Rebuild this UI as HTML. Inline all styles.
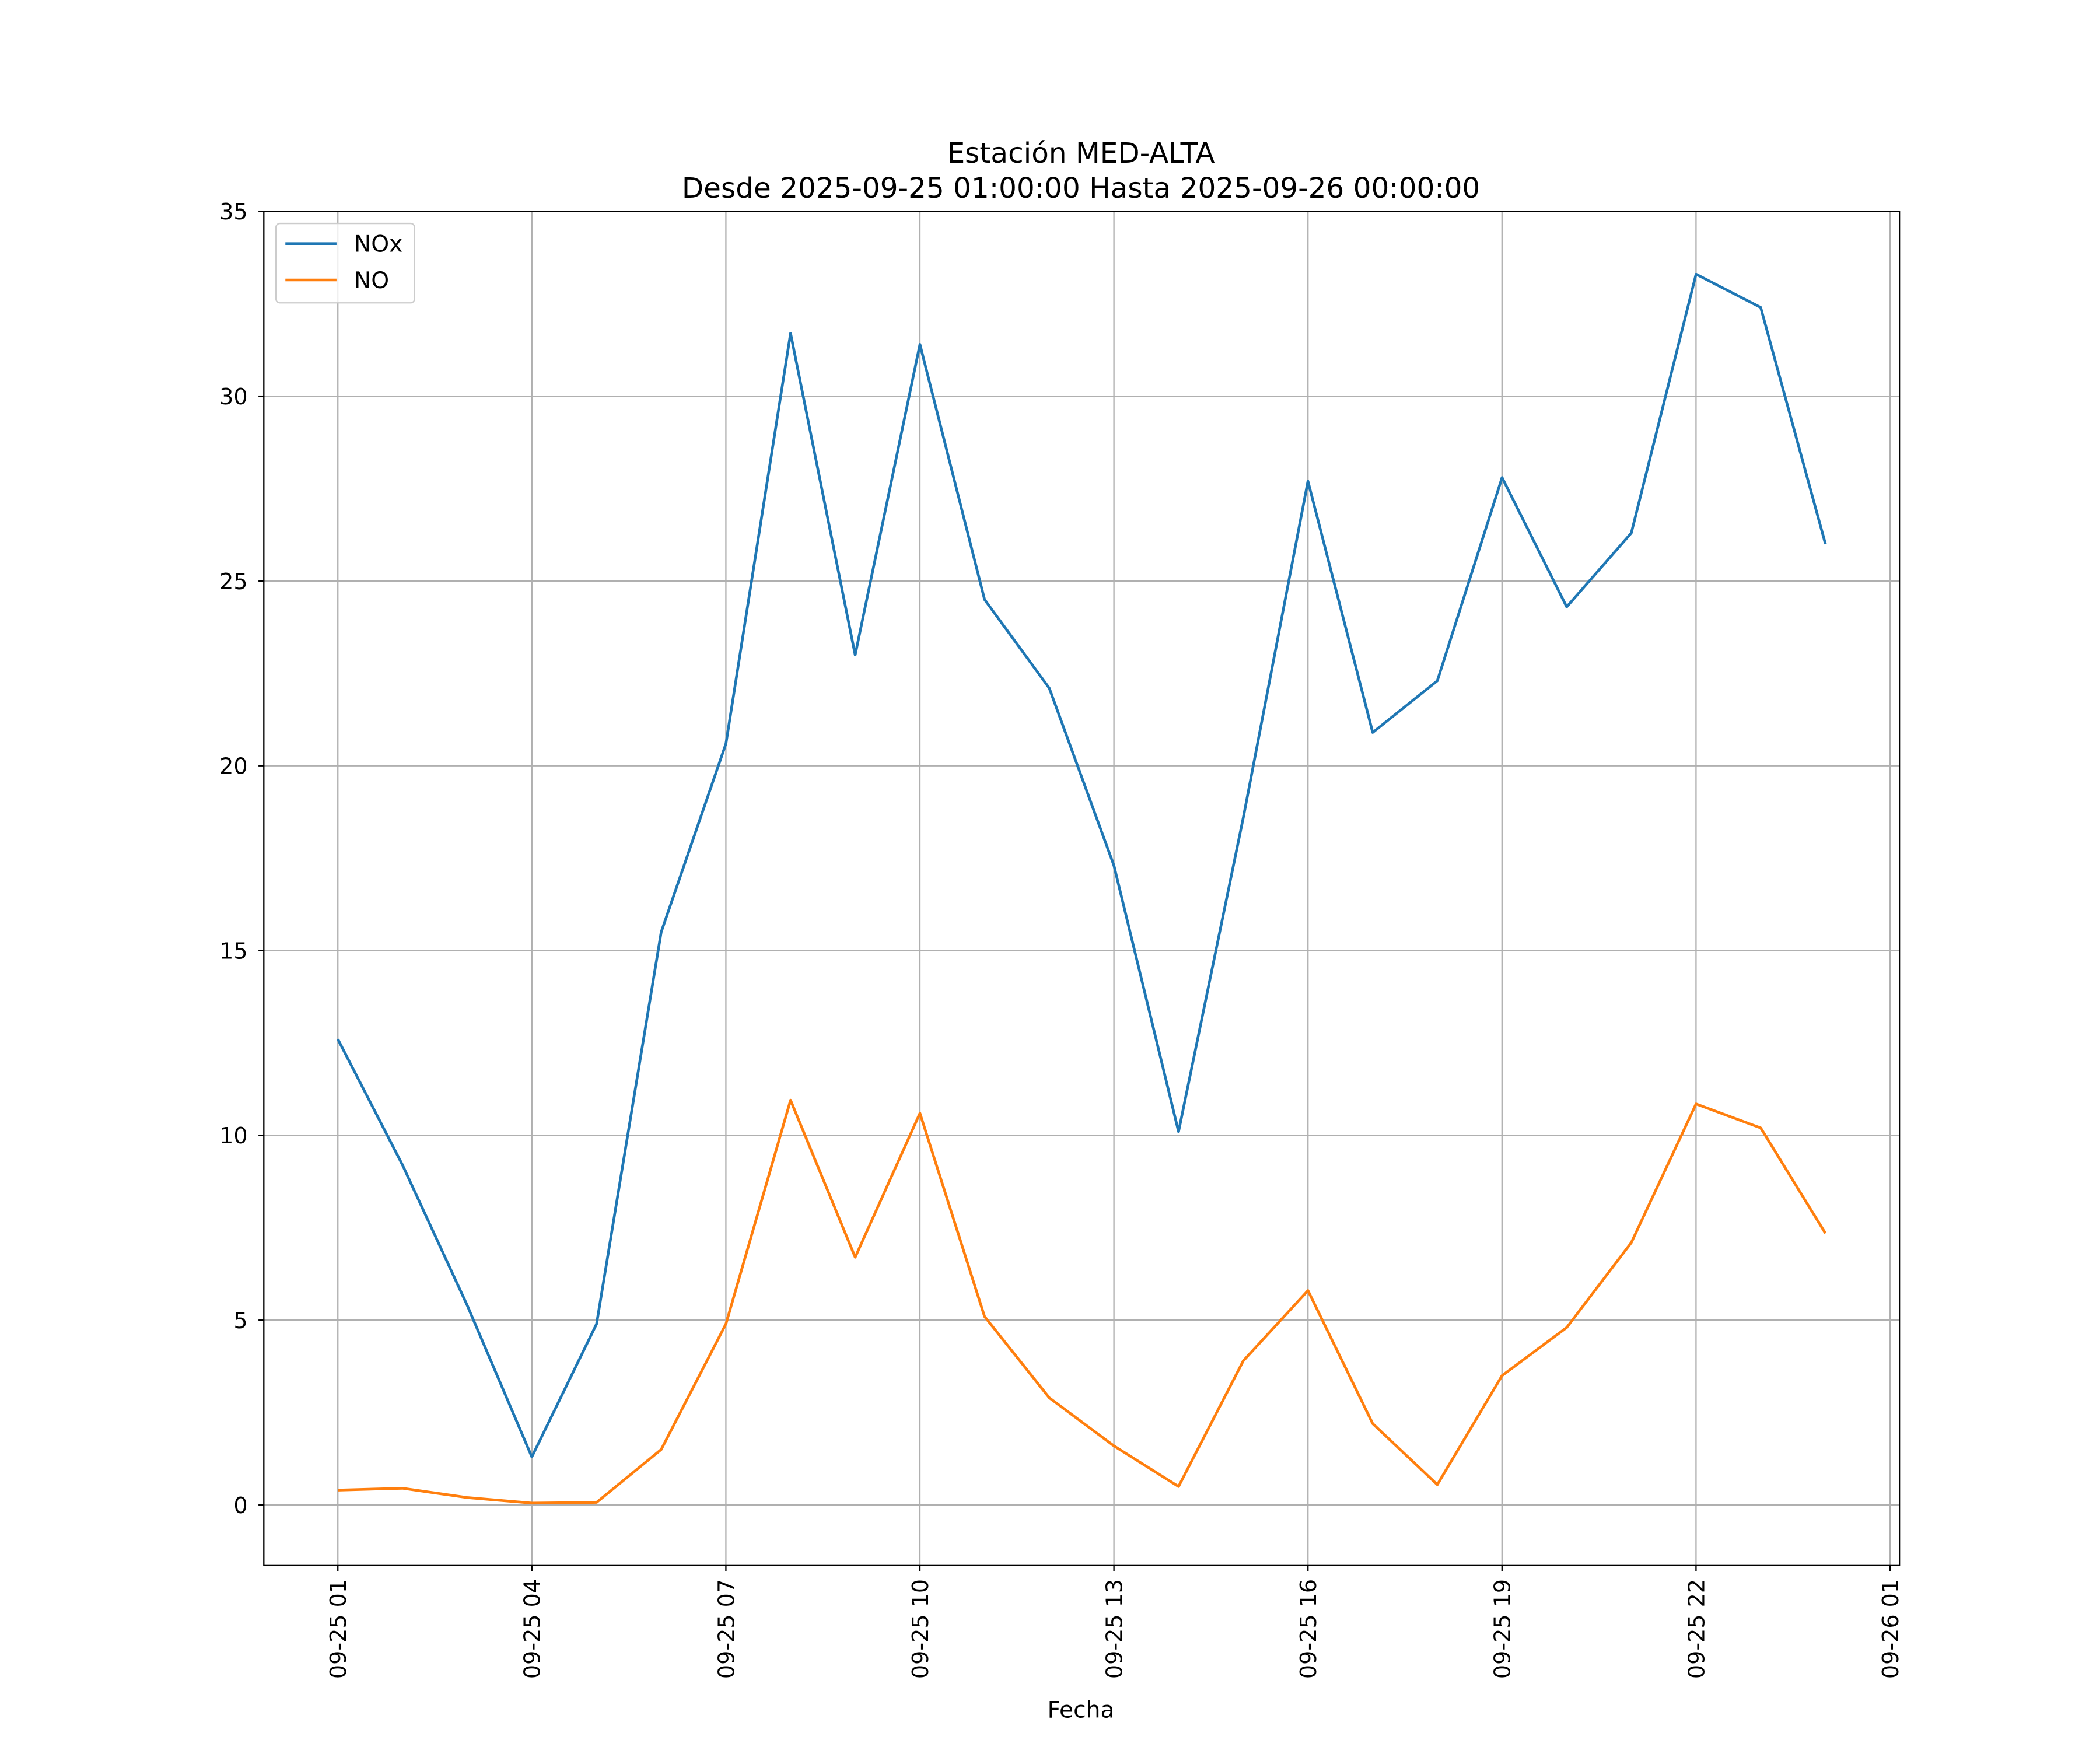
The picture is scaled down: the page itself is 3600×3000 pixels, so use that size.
<!DOCTYPE html>
<html><head><meta charset="utf-8">
<style>html,body{margin:0;padding:0;background:#fff;}svg{display:block;}
text{font-family:"DejaVu Sans","Liberation Sans",sans-serif;fill:#000;}</style></head>
<body>
<svg id="chart" width="3600" height="3000" viewBox="0 0 1560 1300" xmlns="http://www.w3.org/2000/svg">
<text x="803" y="121" font-size="21" text-anchor="middle">Estación MED-ALTA</text>
<text x="803" y="147" font-size="21" text-anchor="middle">Desde 2025-09-25 01:00:00 Hasta 2025-09-26 00:00:00</text>
<g id="grid"></g>
<g id="series"></g>
<rect x="196" y="157" width="1215" height="1006" fill="none" stroke="#000" stroke-width="1"/>
<g id="axes"></g>
<text x="803" y="1276" font-size="17" text-anchor="middle">Fecha</text>
<g>
<rect x="205" y="166" width="103" height="59" fill="#fff" fill-opacity="0.8" stroke="#ccc" rx="3"/>
<line x1="212" y1="181" x2="250" y2="181" stroke="#1f77b4" stroke-width="2"/>
<text x="263" y="187" font-size="17">NOx</text>
<line x1="212" y1="208" x2="250" y2="208" stroke="#ff7f0e" stroke-width="2"/>
<text x="263" y="214" font-size="17">NO</text>
</g>
</svg>
<script>
const hours = [1,2,3,4,5,6,7,8,9,10,11,12,13,14,15,16,17,18,19,20,21,22,23,24];
const noxValues = [12.6,9.2,5.4,1.3,4.9,15.5,20.6,31.7,23.0,31.4,24.5,22.1,17.3,10.1,18.6,27.7,20.9,22.3,27.8,24.3,26.3,33.3,32.4,26.0];
const noValues = [0.4,0.45,0.2,0.05,0.07,1.5,4.9,10.95,6.7,10.6,5.1,2.9,1.6,0.5,3.9,5.8,2.2,0.55,3.5,4.8,7.1,10.85,10.2,7.35];
const yTicks = [0,5,10,15,20,25,30,35];
const xTickHours = [1,4,7,10,13,16,19,22,25];
const xTickLabels = ["09-25 01","09-25 04","09-25 07","09-25 10","09-25 13","09-25 16","09-25 19","09-25 22","09-26 01"];

const NS="http://www.w3.org/2000/svg";
function xs(h){return 251+(h-1)*(1404-251)/24;}
function ys(v){return 1118-v*(1118-157)/35;}
function mk(tag,attrs,parent){const e=document.createElementNS(NS,tag);for(const k in attrs)e.setAttribute(k,attrs[k]);parent.appendChild(e);return e;}
const grid=document.getElementById('grid'),axes=document.getElementById('axes'),series=document.getElementById('series');
yTicks.forEach(v=>{
  const y=ys(v);
  const g=mk('line',{x1:196,x2:1411,y1:y,y2:y,stroke:'#b0b0b0','stroke-width':1},grid);
  
  
  mk('line',{x1:192,x2:196,y1:y,y2:y,stroke:'#000'},axes);
  const t=mk('text',{x:184,y:y+6,'font-size':16.5,'text-anchor':'end'},axes);
  t.textContent=v;
  
  
});
xTickHours.forEach((h,i)=>{
  const x=xs(h);
  const g=mk('line',{x1:x,x2:x,y1:157,y2:1163,stroke:'#b0b0b0','stroke-width':1},grid);
  
  
  mk('line',{x1:x,x2:x,y1:1163,y2:1167,stroke:'#000'},axes);
  const t=mk('text',{x:0,y:0,'font-size':16.5,'text-anchor':'end',transform:`translate(${x+6},1173) rotate(-90)`},axes);
  t.textContent=xTickLabels[i];
  
  
});
function drawLine(vals,color,name){
  const pts=vals.map((v,i)=>xs(hours[i]).toFixed(1)+','+ys(v).toFixed(1)).join(' ');
  const p=mk('polyline',{points:pts,fill:'none',stroke:color,'stroke-width':2,'stroke-linejoin':'round'},series);
  
  
}
drawLine(noxValues,'#1f77b4','nox-line');
drawLine(noValues,'#ff7f0e','no-line');
</script>
</body></html>
